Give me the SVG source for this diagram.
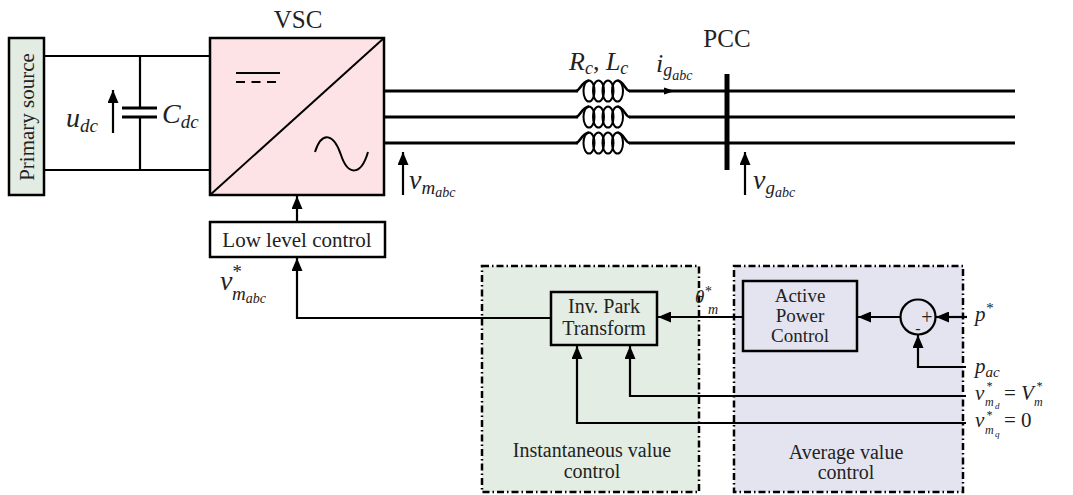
<svg xmlns="http://www.w3.org/2000/svg" width="1073" height="495" viewBox="0 0 1073 495">
<defs>
<style>
.t{font-family:"Liberation Serif","DejaVu Serif",serif;fill:#222;}
.m{font-family:"Liberation Serif","DejaVu Serif",serif;font-style:italic;fill:#222;}
.r{font-style:normal;}
.blk{fill:none;stroke:#000;stroke-width:2.5;}
.ln{fill:none;stroke:#000;stroke-width:2.2;}
.ph{fill:none;stroke:#000;stroke-width:3;}
.grp{stroke:#000;stroke-width:2.5;stroke-dasharray:7 3 1.5 3;}
</style>
<marker id="ah" markerUnits="userSpaceOnUse" markerWidth="13" markerHeight="11" refX="13" refY="5.5" orient="auto">
<path d="M0,0 L13,5.5 L0,11 z" fill="#000"/>
</marker>
</defs>
<rect width="1073" height="495" fill="#fff"/>

<g id="group-instantaneous">
<rect x="482" y="266" width="217" height="226" fill="#e3ede3" class="grp"/>
<text class="t" x="592" y="457" font-size="20" text-anchor="middle">Instantaneous value</text>
<text class="t" x="592" y="478" font-size="20" text-anchor="middle">control</text>
</g>
<g id="group-average">
<rect x="734" y="266" width="229" height="226" fill="#e4e4f0" class="grp"/>
<text class="t" x="846" y="459" font-size="20" text-anchor="middle">Average value</text>
<text class="t" x="846" y="479" font-size="20" text-anchor="middle">control</text>
</g>

<g id="primary-source">
<rect x="9" y="38" width="35" height="157" fill="#e2ece2" stroke="#000" stroke-width="2.5"/>
<text class="t" x="0" y="0" font-size="21" text-anchor="middle" transform="translate(34,117) rotate(-90)">Primary source</text>
</g>

<g id="dc-link">
<path class="ln" d="M44,56 H210 M44,170 H210 M140,56 V108 M140,117 V170"/>
<path d="M122,108 H157 M122,117 H157" stroke="#000" stroke-width="3"/>
<path class="ln" d="M113,133 V90" marker-end="url(#ah)"/>
<text class="m" x="66" y="127" font-size="28">u<tspan font-size="19" dy="5">dc</tspan></text>
<text class="m" x="162" y="123" font-size="28">C<tspan font-size="19" dy="5">dc</tspan></text>
</g>

<g id="vsc">
<rect x="210" y="38" width="174" height="157" fill="#fde3e6" stroke="#000" stroke-width="2.5"/>
<path d="M210,195 L384,38" stroke="#000" stroke-width="2"/>
<path d="M236,73 H280" stroke="#000" stroke-width="2"/>
<path d="M236,82 H280" stroke="#000" stroke-width="2" stroke-dasharray="9 6.5"/>
<path d="M315,152 C322,130 334,134 341,155 C348,176 361,176 368,152" fill="none" stroke="#000" stroke-width="2"/>
<text class="t" x="298" y="28" font-size="25" text-anchor="middle">VSC</text>
</g>

<g id="low-level-control">
<rect x="210" y="222" width="175" height="35" fill="#fff" class="blk"/>
<text class="t" x="297" y="247" font-size="21" text-anchor="middle">Low level control</text>
</g>

<g id="lines">
<path class="ph" d="M384,91 H578 M384,117 H578 M384,143 H578"/>
<path class="ph" d="M629,91 H1015 M629,117 H1015 M629,143 H1015"/>
</g>

<g id="inductors" fill="none" stroke="#000" stroke-width="2">
<g id="coil-a">
<ellipse cx="589" cy="91" rx="5.5" ry="10.5"/><ellipse cx="598.5" cy="91" rx="5.5" ry="10.5"/><ellipse cx="608" cy="91" rx="5.5" ry="10.5"/><ellipse cx="617.5" cy="91" rx="5.5" ry="10.5"/>
<path d="M576,91 C580,91 581,82 589,80.5 M617.5,80.5 C625,82 625,91 630,91" stroke-width="2.5"/>
</g>
<g id="coil-b">
<ellipse cx="589" cy="117" rx="5.5" ry="10.5"/><ellipse cx="598.5" cy="117" rx="5.5" ry="10.5"/><ellipse cx="608" cy="117" rx="5.5" ry="10.5"/><ellipse cx="617.5" cy="117" rx="5.5" ry="10.5"/>
<path d="M576,117 C580,117 581,108 589,106.5 M617.5,106.5 C625,108 625,117 630,117" stroke-width="2.5"/>
</g>
<g id="coil-c">
<ellipse cx="589" cy="143" rx="5.5" ry="10.5"/><ellipse cx="598.5" cy="143" rx="5.5" ry="10.5"/><ellipse cx="608" cy="143" rx="5.5" ry="10.5"/><ellipse cx="617.5" cy="143" rx="5.5" ry="10.5"/>
<path d="M576,143 C580,143 581,134 589,132.5 M617.5,132.5 C625,134 625,143 630,143" stroke-width="2.5"/>
</g>
<text class="m" x="569" y="70" font-size="26" fill="#222" stroke="none">R<tspan font-size="18" dy="4">c</tspan><tspan class="r" dy="-4">, </tspan>L<tspan font-size="18" dy="4">c</tspan></text>
</g>

<g id="current-label">
<path d="M664,87.5 L675,91 L664,94.5 z" fill="#000"/>
<text class="m" x="656" y="72" font-size="26">i<tspan font-size="18" dy="4">g</tspan><tspan font-size="14" dy="4">abc</tspan></text>
</g>

<g id="pcc">
<path d="M727,74 V170" stroke="#000" stroke-width="5"/>
<text class="t" x="727" y="47" font-size="25" text-anchor="middle">PCC</text>
</g>

<g id="voltage-labels">
<path class="ln" d="M403,195 V152" marker-end="url(#ah)"/>
<text class="m" x="409" y="189" font-size="28">v<tspan font-size="19" dy="5">m</tspan><tspan font-size="14" dy="3">abc</tspan></text>
<path class="ln" d="M745,195 V152" marker-end="url(#ah)"/>
<text class="m" x="753" y="189" font-size="28">v<tspan font-size="19" dy="5">g</tspan><tspan font-size="14" dy="3">abc</tspan></text>
</g>

<g id="inv-park">
<rect x="551" y="292" width="106" height="53" fill="#e3ede3" class="blk"/>
<text class="t" x="604" y="313" font-size="20" text-anchor="middle">Inv. Park</text>
<text class="t" x="604" y="335" font-size="20" text-anchor="middle">Transform</text>
</g>

<g id="active-power-control">
<rect x="743" y="281" width="114" height="70" fill="#e4e4f0" class="blk"/>
<text class="t" x="800" y="302" font-size="19" text-anchor="middle">Active</text>
<text class="t" x="800" y="322" font-size="19" text-anchor="middle">Power</text>
<text class="t" x="800" y="342" font-size="19" text-anchor="middle">Control</text>
</g>

<g id="sum">
<circle cx="918" cy="317" r="17.5" fill="none" stroke="#000" stroke-width="2.2"/>
<text class="t" x="927" y="324" font-size="20" text-anchor="middle" fill="#555">+</text>
<text class="t" x="918" y="334" font-size="16" text-anchor="middle">-</text>
</g>

<g id="connectors">
<path class="ln" d="M297,222 V196" marker-end="url(#ah)"/>
<path class="ln" d="M551,318 H297 V258" marker-end="url(#ah)"/>
<path class="ln" d="M743,317 H658" marker-end="url(#ah)"/>
<path class="ln" d="M900,317 H858" marker-end="url(#ah)"/>
<path class="ln" d="M967,317 H936" marker-end="url(#ah)"/>
<path class="ln" d="M966,367 H918 V335" marker-end="url(#ah)"/>
<path class="ln" d="M966,396 H630 V346" marker-end="url(#ah)"/>
<path class="ln" d="M966,423 H577 V346" marker-end="url(#ah)"/>
</g>

<g id="signal-labels">
<text class="m" x="220" y="290" font-size="28">v<tspan font-size="19" dx="-1" dy="-12">*</tspan><tspan font-size="19" dx="-9" dy="22">m</tspan><tspan font-size="14" dy="3">abc</tspan></text>
<text class="m" x="695" y="303" font-size="19">θ<tspan font-size="14" dy="-7">*</tspan></text>
<text class="m" x="708" y="314" font-size="14">m</text>
<text class="m" x="975" y="321" font-size="21">p<tspan font-size="15" dy="-8">*</tspan></text>
<text class="m" x="975" y="373" font-size="21">p<tspan font-size="15" dy="4">ac</tspan></text>
<text class="m" x="975" y="400" font-size="21">v</text>
<text class="m" x="986" y="390" font-size="12">*</text>
<text class="m" x="985" y="406" font-size="12">m</text>
<text class="m" x="995" y="409" font-size="9">d</text>
<text class="t" x="1004" y="400" font-size="21">= <tspan class="m">V</tspan></text>
<text class="m" x="1036" y="390" font-size="12">*</text>
<text class="m" x="1034" y="406" font-size="12">m</text>
<text class="m" x="975" y="427" font-size="21">v</text>
<text class="m" x="986" y="419" font-size="12">*</text>
<text class="m" x="985" y="434" font-size="12">m</text>
<text class="m" x="995" y="437" font-size="9">q</text>
<text class="t" x="1004" y="427" font-size="21">= 0</text>
</g>
</svg>
